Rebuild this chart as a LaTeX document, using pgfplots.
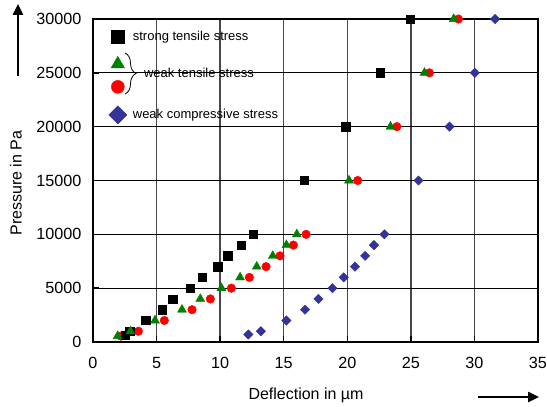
\documentclass[border=0pt]{standalone}
\usepackage{fontspec}
\setmainfont{Liberation Sans}
\usepackage{pgfplots}
\pgfplotsset{compat=1.18}
\usetikzlibrary{arrows.meta,decorations.pathreplacing}

\definecolor{wtgreen}{RGB}{0,128,0}
\definecolor{wtred}{RGB}{255,0,0}
\definecolor{wcblue}{RGB}{51,51,153}

\begin{document}
\begin{tikzpicture}
\useasboundingbox (-93bp,-65bp) rectangle (454bp,342bp);
\begin{axis}[
  at={(0,0)}, anchor=south west,
  scale only axis, width=445bp, height=323bp,
  xmin=0, xmax=35, ymin=0, ymax=30000,
  xtick={0,5,...,35}, ytick={0,5000,...,30000},
  scaled y ticks=false,
  /pgf/number format/1000 sep={},
  /pgf/number format/assume math mode=true,
  grid=major,
  x grid style={line width=1.4bp, black!72},
  y grid style={line width=0.9bp, black},
  axis line style={line width=1.8bp, black},
  tick align=inside, tick pos=left,
  major tick length=6bp,
  tick style={line width=1.4bp, black},
  ticklabel style={font=\fontsize{16.2bp}{19bp}\selectfont},
  xticklabel style={yshift=-12bp},
  yticklabel style={xshift=-8bp},
  xlabel={Deflection in µm}, ylabel={Pressure in Pa},
  label style={font=\fontsize{16bp}{19bp}\selectfont},
  xlabel style={at={(axis description cs:0.4787,-0.164)}, anchor=center},
  ylabel style={at={(axis description cs:-0.173,0.492)}, anchor=center},
  clip=false,
  legend style={at={(axis description cs:0.035,0.97)}, anchor=north west,
    draw=none, fill=none, inner sep=0pt,
    font=\fontsize{13bp}{15bp}\selectfont,
    row sep=12.5bp, column sep=4bp, cells={anchor=west}},
  legend image code/.code={\draw[#1] plot coordinates {(0bp,0bp)};},
]
\addlegendimage{only marks, mark=square*, black, mark size=6.5bp}
\addlegendentry{strong tensile stress}
\addlegendimage{only marks, mark=triangle*, wtgreen, mark size=7.7bp}
\addlegendentry{}
\addlegendimage{only marks, mark=*, wtred, mark size=6.5bp}
\addlegendentry{}
\addlegendimage{only marks, mark=square*, wcblue, mark size=6.4bp, mark options={rotate=45}}
\addlegendentry{weak compressive stress}

% weak tensile stress (circles)
\addplot[forget plot, only marks, mark=*, wtred, mark size=4.3bp] coordinates {
  (2.2,550) (3.57,1000) (5.61,2000) (7.79,3000) (9.23,4000) (10.88,5000)
  (12.3,6000) (13.61,7000) (14.71,8000) (15.76,9000) (16.76,10000)
  (20.82,15000) (23.9,20000) (26.46,25000) (28.74,30000)
};
% strong tensile stress
\addplot[forget plot, only marks, mark=square*, black, mark size=4.2bp] coordinates {
  (2.55,650) (2.9,1000) (4.15,2000) (5.45,3000) (6.27,4000) (7.65,5000)
  (8.6,6000) (9.81,7000) (10.6,8000) (11.67,9000) (12.61,10000)
  (16.63,15000) (19.88,20000) (22.58,25000) (24.97,30000)
};
% weak tensile stress (triangles)
\addplot[forget plot, only marks, mark=triangle*, wtgreen, mark size=5.2bp] coordinates {
  (1.94,550) (2.94,1000) (4.88,2000) (7.0,3000) (8.44,4000) (10.1,5000)
  (11.57,6000) (12.88,7000) (14.14,8000) (15.21,9000) (16.03,10000)
  (20.14,15000) (23.4,20000) (26.07,25000) (28.37,30000)
};
% weak compressive stress
\addplot[forget plot, only marks, mark=square*, wcblue, mark size=3.3bp, mark options={rotate=45}] coordinates {
  (12.22,700) (13.2,1000) (15.21,2000) (16.68,3000) (17.73,4000) (18.83,5000)
  (19.72,6000) (20.61,7000) (21.4,8000) (22.1,9000) (22.92,10000)
  (25.6,15000) (28.04,20000) (30.03,25000) (31.63,30000)
};

\draw[decorate, decoration={brace, amplitude=11bp}, line width=0.8bp]
  (axis cs:2.52,26843) -- (axis cs:2.52,23035);
\node[anchor=west, inner sep=0pt, font=\fontsize{13bp}{15bp}\selectfont]
  at (axis cs:4.0,24986) {weak tensile stress};
\end{axis}
\draw[line width=2.4bp, -{Triangle[length=11bp, width=10bp]}] (-75bp,266bp) -- (-75bp,338bp);
\draw[line width=2.4bp, -{Triangle[length=11bp, width=10bp]}] (385bp,-55bp) -- (446bp,-55bp);
\end{tikzpicture}
\end{document}
